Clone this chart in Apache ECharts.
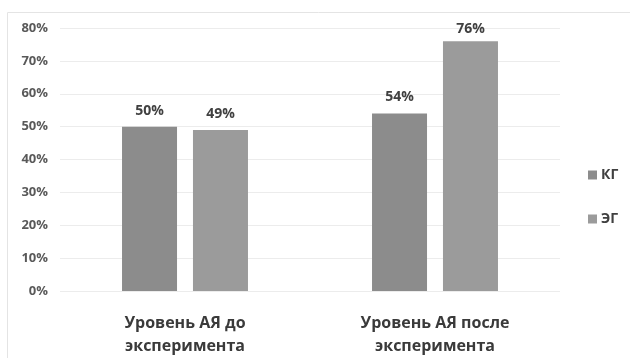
<!DOCTYPE html>
<html>
<head>
<meta charset="utf-8">
<script src="https://cdn.jsdelivr.net/npm/echarts@6/dist/echarts.min.js"></script>
<style>
  html, body { margin: 0; padding: 0; background: #fff; }
  #chart { width: 630px; height: 358px; }
</style>
</head>
<body>
<div id="chart"></div>
<script>
var categories = ['Уровень АЯ до\nэксперимента', 'Уровень АЯ после\nэксперимента']
var kgValues = [50, 54]
var egValues = [49, 76]
var yTicks = [0, 10, 20, 30, 40, 50, 60, 70, 80]

var myChart = echarts.init(document.getElementById('chart'))

function labelStyle() {
  return {
    show: true,
    position: 'top',
    distance: 9,
    formatter: '{c}%',
    fontFamily: 'Open Sans',
    fontWeight: 'bold',
    fontSize: 14,
    color: '#404040'
  }
}

// labels close to the top of the plot sit a bit lower, like in the original
function withLabels(values) {
  return values.map(function (v) {
    if (v > 70) return { value: v, label: { distance: 5 } }
    return v
  })
}

var option = {
  animation: false,
  textStyle: { fontFamily: 'Open Sans' },
  graphic: [{
    type: 'polyline',
    shape: { points: [[7.5, 358], [7.5, 12.5], [630, 12.5]] },
    style: { stroke: '#e4e4e4', lineWidth: 1, fill: null }
  }],
  grid: { left: 60, right: 70, top: 28, bottom: 64 },
  legend: {
    orient: 'vertical',
    left: 583,
    top: 162,
    itemWidth: 9,
    itemHeight: 9,
    itemGap: 28,
    icon: 'rect',
    textStyle: { fontFamily: 'Open Sans', fontWeight: 'bold', fontSize: 14, lineHeight: 16, color: '#404040', padding: [0, 0, 0, -1] },
    data: ['КГ', 'ЭГ']
  },
  xAxis: {
    type: 'category',
    data: categories,
    axisLine: { show: false },
    axisTick: { show: false },
    axisLabel: {
      margin: 21,
      fontFamily: 'Open Sans',
      fontWeight: 'bold',
      fontSize: 16,
      lineHeight: 23,
      color: '#3a3a3a'
    }
  },
  yAxis: {
    type: 'value',
    min: yTicks[0],
    max: yTicks[yTicks.length - 1],
    interval: 10,
    axisLine: { show: false },
    axisTick: { show: false },
    splitLine: { lineStyle: { color: '#ececec', width: 1 } },
    axisLabel: {
      margin: 12,
      formatter: '{value}%',
      fontFamily: 'Open Sans',
      fontWeight: 'bold',
      fontSize: 13,
      color: '#595959'
    }
  },
  series: [{
    name: 'КГ',
    type: 'bar',
    data: withLabels(kgValues),
    barWidth: 55,
    barGap: '29%',
    itemStyle: { color: '#8c8c8c' },
    label: labelStyle()
  }, {
    name: 'ЭГ',
    type: 'bar',
    data: withLabels(egValues),
    barWidth: 55,
    itemStyle: { color: '#9b9b9b' },
    label: labelStyle()
  }]
}

myChart.setOption(option)
</script>
</body>
</html>
